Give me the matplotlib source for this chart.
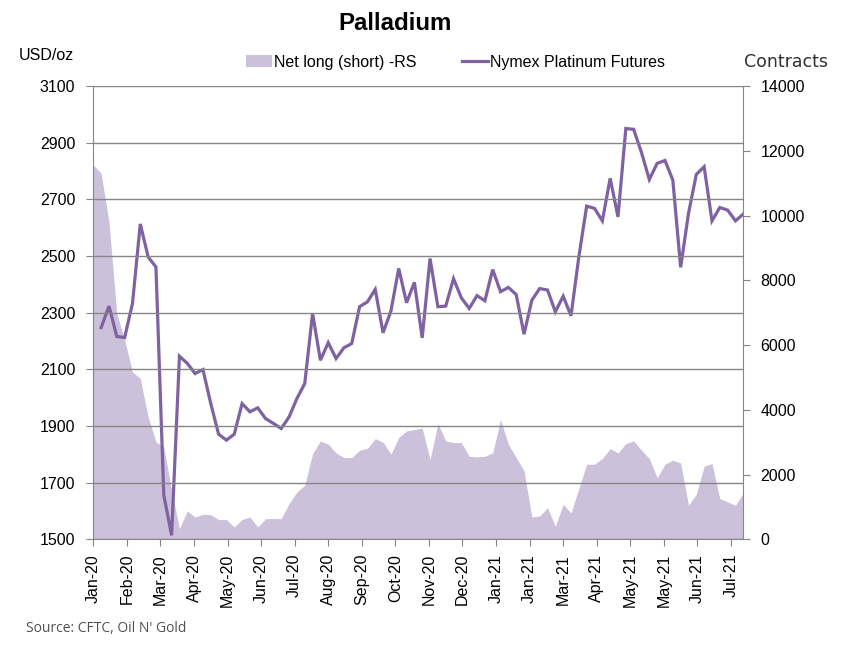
import numpy as np
import pandas as pd
import matplotlib
matplotlib.use('Agg')
import matplotlib.pyplot as plt
import matplotlib.transforms as mtransforms
from matplotlib.patches import Patch
from matplotlib.lines import Line2D

# weekly COT dates (Tuesdays)
week_dates = pd.date_range('2020-01-07', periods=84, freq='7D')

# net long (short) contracts, right scale
net_long = [11559, 11301, 9808, 6975, 6150, 5172, 4966, 3781, 3008, 2854,
            1514, 330, 876, 690, 773, 762, 608, 608, 381, 608,
            690, 381, 639, 639, 639, 1102, 1463, 1669, 2648, 3040,
            2936, 2668, 2524, 2524, 2751, 2812, 3111, 2998, 2627, 3142,
            3348, 3389, 3431, 2462, 3575, 3039, 2988, 2988, 2565, 2545,
            2565, 2668, 3698, 2936, 2524, 2112, 690, 721, 979, 402,
            1082, 814, 1566, 2318, 2318, 2493, 2802, 2668, 2957, 3039,
            2751, 2493, 1906, 2318, 2442, 2359, 1051, 1391, 2256, 2339,
            1257, 1154, 1051, 1432]

# futures price USD/oz, starts one week later
price = [2247, 2323, 2216, 2212, 2332, 2613, 2497, 2461, 1656, 1514,
         2146, 2121, 2085, 2099, 1979, 1871, 1850, 1871, 1979, 1950,
         1964, 1926, 1909, 1891, 1932, 1997, 2050, 2297, 2132, 2194,
         2138, 2176, 2191, 2321, 2338, 2382, 2229, 2305, 2456, 2335,
         2407, 2211, 2491, 2321, 2323, 2420, 2352, 2315, 2360, 2342,
         2452, 2374, 2389, 2364, 2224, 2344, 2385, 2380, 2303, 2358,
         2289, 2497, 2676, 2668, 2624, 2774, 2638, 2950, 2947, 2865,
         2770, 2827, 2837, 2768, 2460, 2650, 2788, 2815, 2624, 2671,
         2662, 2624, 2648]
price_dates = week_dates[1:]

# x axis: ticks every 30 days (that's why Jan-21 and May-21 show twice)
tick_dates = pd.date_range('2020-01-07', periods=20, freq='30D')
tick_labels = ['Jan-20', 'Feb-20', 'Mar-20', 'Apr-20', 'May-20', 'Jun-20',
               'Jul-20', 'Aug-20', 'Sep-20', 'Oct-20', 'Nov-20', 'Dec-20',
               'Jan-21', 'Jan-21', 'Mar-21', 'Apr-21', 'May-21', 'May-21',
               'Jun-21', 'Jul-21']

left_ticks = list(range(1500, 3101, 200))
right_ticks = list(range(0, 14001, 2000))

area_col = '#CCC1DA'
line_col = '#7E62A1'
grid_col = '#868686'
arial = ['Liberation Sans', 'DejaVu Sans']

fig = plt.figure(figsize=(8.46, 6.54), dpi=100)
ax = fig.add_axes([93.3 / 846, 114.7 / 654, 650 / 846, 453.3 / 654])
ax2 = ax.twinx()

# area on the right axis, drawn behind gridlines and line
ax2.fill_between(week_dates, 0, net_long, color=area_col, lw=0)
ax2.set_ylim(0, 14000)
ax2.set_yticks(right_ticks)
ax2.set_yticklabels([str(v) for v in right_ticks], family=arial, fontsize=11.5)

ax.set_zorder(ax2.get_zorder() + 1)
ax.patch.set_visible(False)

ax.plot(price_dates, price, color=line_col, lw=2.3, solid_joinstyle='miter')
ax.set_ylim(1500, 3100)
ax.set_yticks(left_ticks)
ax.set_yticklabels([str(v) for v in left_ticks], family=arial, fontsize=11.5)
ax.yaxis.grid(True, color=grid_col, lw=1)
ax.set_axisbelow(False)

ax.set_xlim(week_dates[0], week_dates[-1])
ax.set_xticks(tick_dates)
ax.set_xticklabels(tick_labels, rotation=90, family=arial, fontsize=11.5,
                   ha='center', va='top')
# labels sit a little right of their ticks in the original
shift = mtransforms.ScaledTranslation(2.5 / 100, 0, fig.dpi_scale_trans)
for lab in ax.get_xticklabels():
    lab.set_transform(lab.get_transform() + shift)

for a in (ax, ax2):
    for s in a.spines.values():
        s.set_color(grid_col)
    a.spines['top'].set_visible(False)
ax.spines['right'].set_visible(False)
ax2.spines['left'].set_visible(False)
ax2.spines['bottom'].set_visible(False)

ax.tick_params(axis='y', length=5, color=grid_col, pad=8)
ax.tick_params(axis='x', length=5, color=grid_col, pad=5.5)
ax2.tick_params(axis='y', length=5, color=grid_col, pad=7.5)

# titles and labels
fig.text(395.5 / 846, 1 - 24 / 654, 'Palladium', ha='center', va='center',
         family=arial, fontsize=17.3, fontweight='bold')
fig.text(19 / 846, 1 - 55.5 / 654, 'USD/oz', ha='left', va='center',
         family=arial, fontsize=11.5)
fig.text(828 / 846, 1 - 62 / 654, 'Contracts', ha='right', va='center',
         family=['DejaVu Sans'], fontsize=12.5, color='#303030')
fig.text(26 / 846, 1 - 628 / 654, "Source: CFTC, Oil N' Gold", ha='left',
         va='center', family=['Open Sans', 'DejaVu Sans'], fontsize=10,
         color='#505050')

handles = [Patch(facecolor=area_col, edgecolor='none'),
           Line2D([], [], color=line_col, lw=2.3)]
fig.legend(handles, ['Net long (short) -RS', 'Nymex Platinum Futures'],
           loc='center left', bbox_to_anchor=(246 / 846, 1 - 62 / 654),
           bbox_transform=fig.transFigure, ncol=2, frameon=False,
           borderpad=0, borderaxespad=0, handlelength=1.63,
           handletextpad=0.15, columnspacing=2.8,
           prop={'family': arial, 'size': 11.5})

fig.savefig('out.png', dpi=100)
